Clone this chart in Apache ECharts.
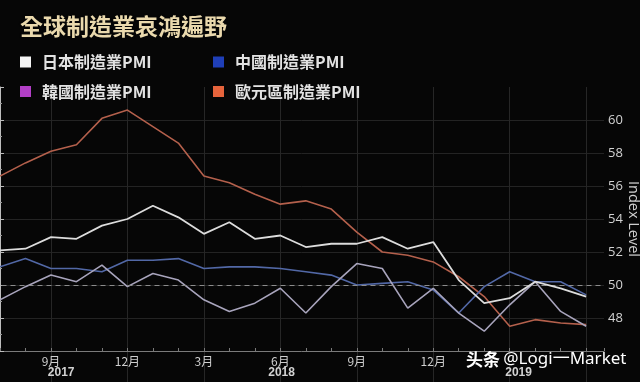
<!DOCTYPE html>
<html>
<head>
<meta charset="utf-8">
<script src="https://cdn.jsdelivr.net/npm/echarts@6/dist/echarts.min.js"></script>
<style>
html,body{margin:0;padding:0;background:#060606;}
#chart{width:640px;height:382px;}
</style>
</head>
<body>
<div id="chart"></div>
<script>
// Months from Jul 2017 to Jun 2019
const months = ['2017-07','2017-08','2017-09','2017-10','2017-11','2017-12',
  '2018-01','2018-02','2018-03','2018-04','2018-05','2018-06',
  '2018-07','2018-08','2018-09','2018-10','2018-11','2018-12',
  '2019-01','2019-02','2019-03','2019-04','2019-05','2019-06'];

const japan    = [52.1,52.2,52.9,52.8,53.6,54.0,54.8,54.1,53.1,53.8,52.8,53.0,52.3,52.5,52.5,52.9,52.2,52.6,50.3,48.9,49.2,50.2,49.8,49.3];
const china    = [51.1,51.6,51.0,51.0,50.8,51.5,51.5,51.6,51.0,51.1,51.1,51.0,50.8,50.6,50.0,50.1,50.2,49.7,48.3,49.9,50.8,50.2,50.2,49.4];
const korea    = [49.1,49.9,50.6,50.2,51.2,49.9,50.7,50.3,49.1,48.4,48.9,49.8,48.3,49.9,51.3,51.0,48.6,49.8,48.3,47.2,48.8,50.2,48.4,47.5];
const eurozone = [56.6,57.4,58.1,58.5,60.1,60.6,59.6,58.6,56.6,56.2,55.5,54.9,55.1,54.6,53.2,52.0,51.8,51.4,50.5,49.3,47.5,47.9,47.7,47.6];

const seriesNames = ['日本制造業PMI','中國制造業PMI','韓國制造業PMI','歐元區制造業PMI'];

// Month-axis tick labels (month index -> label)
const quarterTicks  = [2,5,8,11,14,17];
const quarterLabels = ['9月','12月','3月','6月','9月','12月'];
// Year labels (centered under their span, in month-index units)
const yearLabels  = ['2017','2018','2019'];
const yearCenters = [2.4, 11.05, 20.35];

const toPairs = arr => arr.map((v, i) => [i, v]);

const chart = echarts.init(document.getElementById('chart'), null, {renderer:'canvas'});

const legendText = {
  color:'#e2e2e2', fontSize:16, fontWeight:'bold',
  fontFamily:'"Noto Sans CJK TC","Liberation Serif",serif',
  padding:[0,0,0,6]
};

const option = {
  backgroundColor:'#060606',
  animation:false,
  title:{
    text:'全球制造業哀鴻遍野',
    left:20, top:15, padding:0,
    textStyle:{
      fontSize:23, fontWeight:'bold',
      fontFamily:'"Noto Sans CJK TC",sans-serif',
      color:'#ead9ad',
      textShadowColor:'rgba(0,0,0,0.6)', textShadowBlur:2
    }
  },
  legend:[
    {
      left:20, top:54, padding:0, orient:'vertical', itemGap:13.5,
      icon:'rect', itemWidth:11, itemHeight:11,
      selectedMode:false,
      textStyle:legendText,
      data:[
        {name:seriesNames[0], itemStyle:{color:'#f4f4f4'}},
        {name:seriesNames[2], itemStyle:{color:'#b23fc6'}}
      ]
    },
    {
      left:213, top:54, padding:0, orient:'vertical', itemGap:13.5,
      icon:'rect', itemWidth:11, itemHeight:11,
      selectedMode:false,
      textStyle:legendText,
      data:[
        {name:seriesNames[1], itemStyle:{color:'#1f3fb8'}},
        {name:seriesNames[3], itemStyle:{color:'#e6643c'}}
      ]
    }
  ],
  grid:[
    {left:-25.5, right:36, top:87, bottom:31, outerBoundsMode:'none', containLabel:false},
    {left:-25.5, right:36, top:351, bottom:0, outerBoundsMode:'none', containLabel:false}
  ],
  xAxis:[
    {
      type:'value', gridIndex:0, min:-1, max:23.7, interval:3,
      axisLine:{show:true, lineStyle:{color:'#7a7a7a', width:1}},
      axisTick:{show:true, inside:true, length:3, lineStyle:{color:'#7a7a7a'}},
      minorTick:{show:true, splitNumber:3, length:3, lineStyle:{color:'#7a7a7a'}},
      axisLabel:{
        formatter:v => { const k = quarterTicks.indexOf(v); return k >= 0 ? quarterLabels[k] : ''; },
        color:'#cfcfcf', fontSize:12, margin:4,
        fontFamily:'"Noto Sans CJK SC",sans-serif'
      },
      splitLine:{show:true, showMinLine:false, showMaxLine:false, lineStyle:{color:'#262626', width:1}},
      minorSplitLine:{show:false}
    },
    {
      type:'value', gridIndex:1, min:-1, max:23.7, interval:3,
      axisLine:{show:false}, axisTick:{show:false}, axisLabel:{show:false},
      splitLine:{show:true, showMinLine:false, showMaxLine:false, lineStyle:{color:'#262626', width:1}}
    },
    {
      type:'value', gridIndex:0, position:'bottom', min:-1, max:23.7,
      axisLine:{show:false}, axisTick:{show:false}, splitLine:{show:false},
      axisLabel:{
        customValues:yearCenters,
        formatter:v => { const k = yearCenters.indexOf(v); return k >= 0 ? yearLabels[k] : ''; },
        color:'#d2d2d2', fontSize:12, fontWeight:'bold', margin:16,
        fontFamily:'"Liberation Sans",sans-serif'
      }
    }
  ],
  yAxis:[
    {
      type:'value', gridIndex:0, position:'right', min:46, max:62, interval:2,
      name:'Index Level', nameLocation:'middle', nameRotate:-90, nameGap:22, nameMoveOverlap:false,
      nameTextStyle:{color:'#cfcfcf', fontSize:14.5, fontFamily:'"Open Sans",sans-serif'},
      axisLine:{show:true, lineStyle:{color:'#bdbdbd', width:1}},
      axisTick:{show:true, length:4, lineStyle:{color:'#bdbdbd'}},
      minorTick:{show:true, splitNumber:2, length:2, lineStyle:{color:'#9a9a9a'}},
      axisLabel:{showMinLabel:false, showMaxLabel:false, color:'#d2d2d2', fontSize:13, margin:4,
        fontFamily:'"Open Sans",sans-serif'},
      splitLine:{show:true, showMinLine:false, showMaxLine:false, lineStyle:{color:'#232323', width:1}},
      minorSplitLine:{show:false}
    },
    {type:'value', gridIndex:1, show:false, min:0, max:1}
  ],
  series:[
    {
      name:seriesNames[3], type:'line', xAxisIndex:0, yAxisIndex:0, symbol:'none',
      data:toPairs(eurozone),
      itemStyle:{color:'#e6643c'},
      lineStyle:{color:'#b4604c', width:1.6},
      z:2
    },
    {
      name:seriesNames[1], type:'line', xAxisIndex:0, yAxisIndex:0, symbol:'none',
      data:toPairs(china),
      itemStyle:{color:'#1f3fb8'},
      lineStyle:{color:'#5268a6', width:1.6},
      z:3
    },
    {
      name:seriesNames[2], type:'line', xAxisIndex:0, yAxisIndex:0, symbol:'none',
      data:toPairs(korea),
      itemStyle:{color:'#b23fc6'},
      lineStyle:{color:'#a8a4bc', width:1.6},
      z:4
    },
    {
      name:seriesNames[0], type:'line', xAxisIndex:0, yAxisIndex:0, symbol:'none',
      data:toPairs(japan),
      itemStyle:{color:'#f4f4f4'},
      lineStyle:{color:'#dcdcdc', width:1.8},
      z:5,
      markLine:{
        silent:true, symbol:'none', label:{show:false},
        lineStyle:{type:[5,4], color:'#8c8c8c', width:1},
        data:[{yAxis:50}]
      }
    }
  ],
  graphic:[
    {
      type:'text', left:466, top:351, z:100,
      style:{
        text:'{a|头条} {b|@Logi一Market}',
        rich:{
          a:{fontSize:17, fontWeight:'bold', fill:'#ffffff', fontFamily:'"Noto Sans CJK SC",sans-serif'},
          b:{fontSize:17, fill:'#ffffff', fontFamily:'"Noto Sans","Noto Sans CJK SC",sans-serif'}
        }
      }
    }
  ]
};

chart.setOption(option);
</script>
</body>
</html>
